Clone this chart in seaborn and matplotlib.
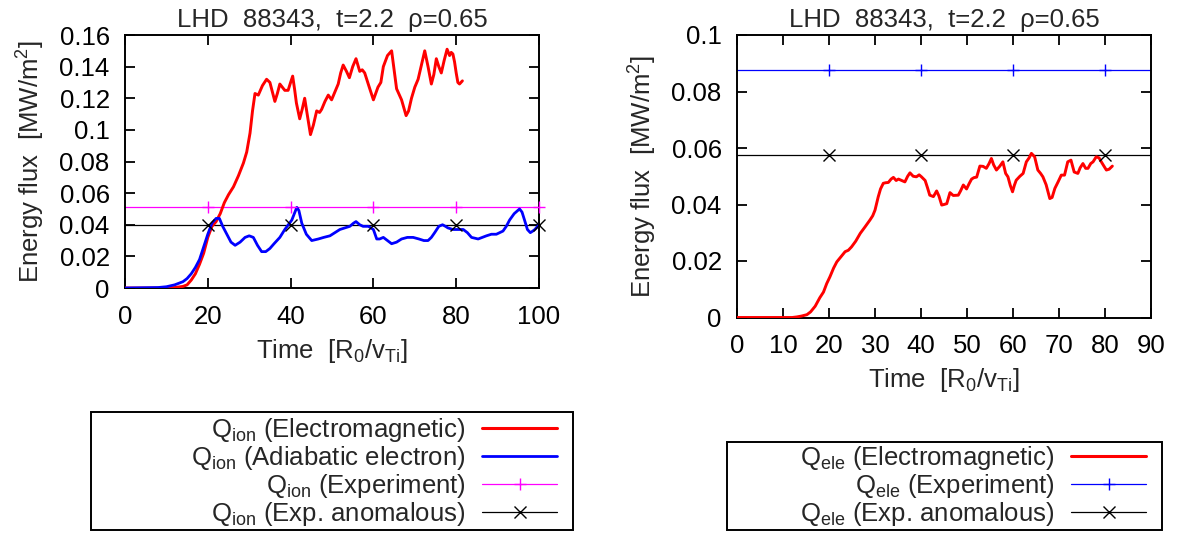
import numpy as np
import pandas as pd
import seaborn as sns
import matplotlib
matplotlib.use("Agg")
import matplotlib.pyplot as plt
from matplotlib.lines import Line2D
from matplotlib.patches import Rectangle
from matplotlib.ticker import FuncFormatter, MultipleLocator

# ---------------- data ----------------
title_text = "LHD  88343,  t=2.2  \u03c1=0.65"

# Ion energy flux, electromagnetic run
ion_em_time = [0, 10, 12, 14, 15, 16, 17, 18, 19, 20, 21, 22, 23, 24, 25, 26.2, 27.4, 28.6,
               29.4, 30.2, 30.8, 31.4, 32.2, 33.2, 34.2, 35.0, 35.6, 36.2, 36.8, 37.4, 38.0,
               38.6, 39.4, 40.0, 40.5, 41.0, 41.4, 42.2, 42.8, 43.4, 44.0, 44.8, 45.5, 46.3,
               47.0, 47.5, 48.3, 49.1, 49.9, 50.7, 51.5, 52.1, 52.7, 53.5, 54.2, 55.0, 55.8,
               56.7, 57.3, 57.9, 59.0, 60.0, 61.1, 61.8, 62.4, 63.4, 64.4, 65.0, 65.6, 66.8,
               67.9, 68.5, 69.2, 70.0, 70.8, 71.6, 72.4, 73.2, 74.0, 74.6, 75.2, 75.8, 76.4,
               77.1, 77.8, 78.4, 78.8, 79.2, 79.6, 80.0, 80.4, 80.8, 81.5]
ion_em_flux = [0, 0, 0.0003, 0.001, 0.002, 0.005, 0.009, 0.015, 0.022, 0.032, 0.039, 0.042,
               0.047, 0.054, 0.059, 0.064, 0.071, 0.079, 0.086, 0.098, 0.112, 0.123, 0.122,
               0.128, 0.132, 0.130, 0.124, 0.118, 0.123, 0.129, 0.127, 0.125, 0.125, 0.130,
               0.134, 0.125, 0.117, 0.107, 0.113, 0.120, 0.110, 0.097, 0.103, 0.112, 0.111,
               0.113, 0.118, 0.122, 0.119, 0.124, 0.129, 0.136, 0.141, 0.137, 0.133, 0.140,
               0.145, 0.137, 0.138, 0.136, 0.127, 0.119, 0.127, 0.130, 0.140, 0.147, 0.150,
               0.138, 0.126, 0.119, 0.109, 0.112, 0.120, 0.127, 0.132, 0.141, 0.150, 0.140,
               0.129, 0.135, 0.145, 0.140, 0.136, 0.144, 0.151, 0.147, 0.149, 0.148, 0.143,
               0.136, 0.130, 0.129, 0.131]

# Ion energy flux, adiabatic-electron run
ion_ad_time = [0, 8, 10, 12, 14, 15, 16, 17, 18, 19, 20, 21, 22, 22.8, 23.6, 24.6, 25.6, 26.6,
               27.8, 29, 30, 31, 32, 33, 34, 35, 36, 37.4, 38.6, 40.3, 41.5, 42, 42.7, 43.8,
               45.1, 46.7, 48, 49.5, 50.7, 51.9, 53.1, 54.3, 55.2, 55.8, 56.7, 57.5, 58.8, 60,
               60.8, 61.5, 62.4, 63.4, 64.4, 65.6, 66.8, 68.2, 69.6, 71, 72.2, 73.2, 74, 74.8,
               75.8, 76.7, 77.4, 78, 79.2, 80.5, 81.7, 82.7, 83.7, 85.3, 86.3, 87.3, 88.5,
               89.7, 90.5, 91.3, 92.1, 92.9, 94, 95.3, 95.9, 96.5, 97.2, 97.9, 98.5, 99, 100]
ion_ad_flux = [0, 0.0003, 0.0008, 0.002, 0.004, 0.006, 0.009, 0.013, 0.018, 0.026, 0.034,
               0.041, 0.044, 0.044, 0.039, 0.034, 0.029, 0.027, 0.029, 0.032, 0.033, 0.032,
               0.027, 0.023, 0.023, 0.025, 0.028, 0.032, 0.037, 0.043, 0.051, 0.049, 0.041,
               0.034, 0.030, 0.031, 0.032, 0.033, 0.035, 0.037, 0.038, 0.039, 0.041, 0.042,
               0.040, 0.039, 0.039, 0.037, 0.031, 0.031, 0.032, 0.030, 0.028, 0.029, 0.031,
               0.032, 0.032, 0.031, 0.030, 0.030, 0.032, 0.035, 0.039, 0.040, 0.039, 0.038,
               0.037, 0.037, 0.037, 0.035, 0.032, 0.031, 0.032, 0.033, 0.034, 0.034, 0.035,
               0.036, 0.039, 0.043, 0.047, 0.050, 0.048, 0.043, 0.037, 0.035, 0.036, 0.037,
               0.040]

# Electron energy flux, electromagnetic run
ele_em_time = [0, 12, 13, 14, 15.2, 16, 17, 18, 18.8, 19.5, 20.2, 21, 21.7, 22.6, 23.5, 24.2,
               24.9, 25.8, 26.8, 27.8, 28.9, 29.5, 30, 30.7, 31.2, 31.8, 32.3, 32.9, 33.5, 34,
               34.6, 35.1, 35.8, 36.5, 37.1, 37.6, 38.3, 39, 39.6, 40.1, 40.9, 41.4, 41.9,
               42.7, 43.4, 43.9, 44.5, 45.0, 45.6, 46.3, 47, 48.1, 48.6, 49.2, 49.9, 50.5, 51,
               51.5, 52.1, 52.8, 53.5, 54.2, 54.8, 55.3, 55.8, 56.4, 57.1, 57.8, 58.4, 58.9,
               59.4, 59.9, 60.3, 60.7, 61.5, 62.2, 62.9, 63.5, 64.0, 64.7, 65.4, 66.0, 66.5,
               67.2, 68.0, 68.5, 69.1, 69.8, 70.5, 71.2, 71.9, 72.6, 73.3, 74.1, 74.6, 75.2,
               75.8, 76.3, 76.9, 77.4, 78.1, 78.7, 79.2, 79.8, 80.3, 80.9, 81.6]
ele_em_flux = [0, 0, 0.0002, 0.0005, 0.001, 0.002, 0.004, 0.007, 0.009, 0.012, 0.0144,
               0.0175, 0.0197, 0.0215, 0.0233, 0.0238, 0.025, 0.027, 0.0298, 0.032, 0.0345,
               0.036, 0.038, 0.0427, 0.0455, 0.0475, 0.0477, 0.0478, 0.049, 0.0496, 0.0485,
               0.049, 0.0485, 0.048, 0.050, 0.0512, 0.050, 0.0498, 0.0505, 0.0498, 0.0485,
               0.046, 0.0433, 0.0428, 0.0448, 0.043, 0.0398, 0.040, 0.0403, 0.0442, 0.0432,
               0.0433, 0.0448, 0.0469, 0.0455, 0.0475, 0.049, 0.0495, 0.0497, 0.0536, 0.0535,
               0.0528, 0.0545, 0.0563, 0.054, 0.0522, 0.0535, 0.0551, 0.051, 0.0498, 0.0468,
               0.0445, 0.0468, 0.0486, 0.050, 0.0510, 0.0551, 0.0565, 0.0581, 0.0569, 0.0522,
               0.051, 0.0498, 0.0470, 0.0421, 0.0425, 0.0457, 0.048, 0.0504, 0.0504, 0.0551,
               0.0557, 0.0515, 0.0510, 0.053, 0.0545, 0.0528, 0.0528, 0.0545, 0.0551, 0.0569,
               0.0565, 0.0551, 0.0535, 0.0522, 0.0525, 0.0536]

# Experimental reference levels
ion_exp = 0.051
ion_exp_anom = 0.040
ele_exp = 0.0875
ele_exp_anom = 0.0575
ion_mark_times = [20, 40, 60, 80, 100]
ele_mark_times = [20, 40, 60, 80]

ion_labels = ["Q$_{ion}$ (Electromagnetic)", "Q$_{ion}$ (Adiabatic electron)",
              "Q$_{ion}$ (Experiment)", "Q$_{ion}$ (Exp. anomalous)"]
ele_labels = ["Q$_{ele}$ (Electromagnetic)", "Q$_{ele}$ (Experiment)",
              "Q$_{ele}$ (Exp. anomalous)"]

# ---------------- style ----------------
sns.set_theme(style="ticks")
plt.rcParams["font.family"] = ["Liberation Sans", "DejaVu Sans"]
plt.rcParams["mathtext.default"] = "regular"
plt.rcParams["axes.edgecolor"] = "black"
plt.rcParams["axes.linewidth"] = 1.4

FS = 18.5
RED, BLUE, MAGENTA, BLACK = "#ff0000", "#0000ff", "#ff00ff", "#000000"

fig = plt.figure(figsize=(11.84, 5.33), dpi=100)
W, H = 1184, 533


def px_axes(x0, y0, x1, y1):
    return fig.add_axes([x0 / W, 1 - y1 / H, (x1 - x0) / W, (y1 - y0) / H])


ax1 = px_axes(125, 35, 539, 288)
ax2 = px_axes(737, 35, 1151, 317.5)

fmt = FuncFormatter(lambda v, p: "%g" % round(v, 6))


def style_axes(ax, xmax, xstep, ymax, ystep):
    ax.set_xlim(0, xmax)
    ax.set_ylim(0, ymax)
    ax.xaxis.set_major_locator(MultipleLocator(xstep))
    ax.yaxis.set_major_locator(MultipleLocator(ystep))
    ax.xaxis.set_major_formatter(fmt)
    ax.yaxis.set_major_formatter(fmt)
    ax.tick_params(direction="in", length=7, width=1.3, top=True, right=True,
                   labelsize=FS, colors="black")
    ax.tick_params(axis="x", pad=12)
    ax.tick_params(axis="y", pad=11)
    ax.set_title(title_text, fontsize=FS, pad=6)
    ax.set_xlabel("Time  [R$_0$/v$_{Ti}$]", fontsize=FS, labelpad=6)
    ax.set_ylabel("Energy flux  [MW/m$^2$]", fontsize=FS, labelpad=9)
    for s in ax.spines.values():
        s.set_visible(True)
        s.set_color("black")


# ---------------- left panel: ion flux ----------------
ion_em = pd.DataFrame({"t": ion_em_time, "q": ion_em_flux})
ion_ad = pd.DataFrame({"t": ion_ad_time, "q": ion_ad_flux})

sns.lineplot(data=ion_em, x="t", y="q", ax=ax1, color=RED, lw=2.1, zorder=3)
sns.lineplot(data=ion_ad, x="t", y="q", ax=ax1, color=BLUE, lw=2.0, zorder=4)
sns.lineplot(x=[0, 100], y=[ion_exp, ion_exp], ax=ax1, color=MAGENTA, lw=0.9, zorder=2)
sns.lineplot(x=[0, 100], y=[ion_exp_anom, ion_exp_anom], ax=ax1, color=BLACK, lw=0.9, zorder=2)
ax1.plot(ion_mark_times, [ion_exp] * len(ion_mark_times), ls="none", marker="+",
         ms=9, mew=1.0, color=MAGENTA, clip_on=False, zorder=5)
ax1.plot(ion_mark_times, [ion_exp_anom] * len(ion_mark_times), ls="none", marker="x",
         ms=9, mew=1.0, color=BLACK, clip_on=False, zorder=5)
style_axes(ax1, 100, 20, 0.16, 0.02)

# ---------------- right panel: electron flux ----------------
ele_em = pd.DataFrame({"t": ele_em_time, "q": ele_em_flux})
sns.lineplot(data=ele_em, x="t", y="q", ax=ax2, color=RED, lw=2.1, zorder=3)
sns.lineplot(x=[0, 90], y=[ele_exp, ele_exp], ax=ax2, color=BLUE, lw=0.9, zorder=2)
sns.lineplot(x=[0, 90], y=[ele_exp_anom, ele_exp_anom], ax=ax2, color=BLACK, lw=0.9, zorder=2)
ax2.plot(ele_mark_times, [ele_exp] * len(ele_mark_times), ls="none", marker="+",
         ms=9, mew=1.0, color=BLUE, zorder=5)
ax2.plot(ele_mark_times, [ele_exp_anom] * len(ele_mark_times), ls="none", marker="x",
         ms=9, mew=1.0, color=BLACK, zorder=5)
style_axes(ax2, 90, 10, 0.1, 0.02)

# ---------------- legends (boxed, labels right-aligned, keys on the right) ----------------
ion_handles = [Line2D([], [], color=RED, lw=2.2),
               Line2D([], [], color=BLUE, lw=2.0),
               Line2D([], [], color=MAGENTA, lw=0.9, marker="+", ms=9, mew=1.0),
               Line2D([], [], color=BLACK, lw=0.9, marker="x", ms=9, mew=1.0)]
ele_handles = [Line2D([], [], color=RED, lw=2.2),
               Line2D([], [], color=BLUE, lw=0.9, marker="+", ms=9, mew=1.0),
               Line2D([], [], color=BLACK, lw=0.9, marker="x", ms=9, mew=1.0)]


def boxed_legend(handles, labels, box, key_right, y_center):
    x0, y0, x1, y1 = box
    fig.patches.append(Rectangle((x0 / W, 1 - y1 / H), (x1 - x0) / W, (y1 - y0) / H,
                                 transform=fig.transFigure, fill=False,
                                 edgecolor="black", lw=1.4))
    fig.legend(handles, labels, loc="center right",
               bbox_to_anchor=(key_right / W, 1 - y_center / H),
               frameon=False, markerfirst=False, fontsize=FS, borderpad=0,
               borderaxespad=0, handlelength=2.9, handletextpad=0.65,
               labelspacing=0.0, numpoints=1)


boxed_legend(ion_handles, ion_labels, (91, 412, 573, 530), 557, 472)
boxed_legend(ele_handles, ele_labels, (727, 442, 1162, 530), 1146, 486)

fig.savefig("out.png", dpi=100)
